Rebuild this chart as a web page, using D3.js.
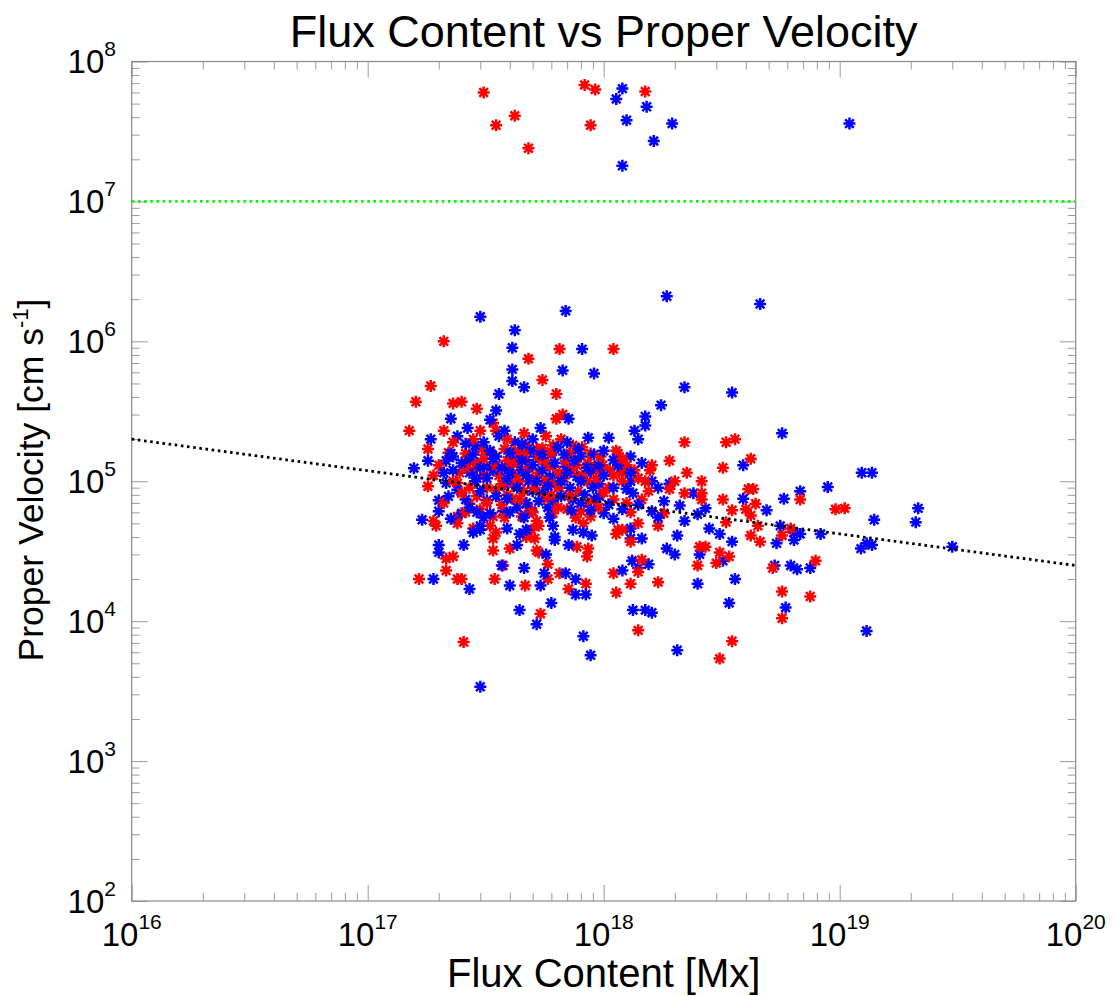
<!DOCTYPE html>
<html><head><meta charset="utf-8">
<script src="https://cdn.jsdelivr.net/npm/d3@7"></script>
<style>
body{margin:0;background:#fff}
svg{display:block}
text{font-family:"Liberation Sans",Arial,Helvetica,sans-serif;fill:#000}
</style>
</head><body>
<svg id="c" width="1116" height="996"></svg>
<script>
// ---------- DATA ----------
const chartTitle = "Flux Content vs Proper Velocity";
const xTitle = "Flux Content [Mx]";
const yTitleMain = "Proper Velocity [cm s";
const yTitleSup = "-1";
const xTickExps = [16, 17, 18, 19, 20];
const yTickExps = [2, 3, 4, 5, 6, 7, 8];
const thresholdVelocity = 1e7;
const fitLine = [[1e16, 2.0e5], [1e20, 2.5e4]];

const redPoints = [
[3.1e17,6.0e7],[3.5e17,3.5e7],[4.2e17,4.1e7],[4.8e17,2.4e7],[8.3e17,6.8e7],[9.2e17,6.3e7],[8.8e17,3.5e7],[1.5e18,6.1e7],
[2.1e17,1.0e6],[6.5e17,8.8e5],[1.1e18,8.8e5],[4.8e17,7.5e5],[5.5e17,5.3e5],[1.85e17,4.8e5],[1.6e17,3.7e5],[2.3e17,3.6e5],[2.5e17,3.7e5],[2.9e17,3.3e5],[6.3e17,4.2e5],[6.3e17,2.8e5],[6.7e17,3.0e5],[1.5e17,2.3e5],[2.1e17,2.3e5],[4.6e17,2.2e5],[6.6e17,2.0e5],[1.8e17,1.7e5],
[1.8e17,9.2e4],[1.9e17,5.2e4],[1.95e17,4.8e4],[2.15e17,2.8e4],[2.3e17,2.9e4],[2.15e17,2.3e4],[1.65e17,2.0e4],[2.4e17,2.0e4],[2.5e17,2.0e4],[2.55e17,7.1e3],[3.45e17,2.0e4],[4.65e17,1.8e4],[5.8e17,2.0e4],[5.4e17,1.13e4],[6.5e17,2.2e4],[7.1e17,1.7e4],[8.4e17,1.85e4],[1.1e18,2.2e4],[1.13e18,1.6e4],[4.0e17,3.3e4],[3.75e17,2.5e4],[5.2e17,3.2e4],[5.8e17,2.55e4],[3.4e17,3.9e4],[3.4e17,3.2e4],[3.5e17,4.3e4],[7.7e17,3.4e4],[8.6e17,3.3e4],[8.5e17,2.9e4],[4.7e17,4.0e4],[5.1e17,3.9e4],[5.3e17,3.1e4],[2.8e17,4.6e4],[3.3e17,4.8e4],[4.95e17,4.5e4],[5.3e17,4.8e4],[8.2e17,5.0e4],[1.15e18,4.5e4],
[2.7e17,6.9e4],[2.4e17,5.0e4],[3.0e17,6.3e4],[3.5e17,8.7e4],[3.4e17,5.6e4],[4.1e17,9.5e4],[4.5e17,5.6e4],[4.8e17,6.5e4],[5.2e17,5.2e4],[5.7e17,9.5e4],[6.1e17,5.9e4],[7.0e17,6.3e4],[8.0e17,6.1e4],[9.1e17,9.5e4],[1.1e18,7.4e4],[2.4e17,5.6e4],[8.8e17,5.6e4],[1.13e18,4.2e4],
[2.2e17,1.6e5],[1.9e17,1.1e5],[2.45e17,1.15e5],[2.6e17,1.58e5],[2.65e17,1.4e5],[3.05e17,1.7e5],[3.4e17,2.6e5],[3.5e17,2.3e5],[3.8e17,1.7e5],[4.7e17,1.8e5],[4.0e17,1.27e5],[5.2e17,1.7e5],[5.5e17,1.72e5],[6.1e17,1.8e5],[7.4e17,1.8e5],[7.2e17,1.58e5],[8.8e17,1.58e5],[1.13e18,1.65e5],[9.6e17,1.2e5],[9.2e17,1.25e5],[1.06e18,1.2e5],[1.1e18,1.1e5],[6.1e17,1.27e5],[5.3e17,1.15e5],[2.4e17,9.7e4],[1.15e18,1.58e5],
[2.2e18,1.9e5],[3.3e18,1.9e5],[3.6e18,2.0e5],[1.9e18,1.4e5],[4.2e18,1.45e5],[3.2e18,1.25e5],[2.25e18,1.15e5],[2.6e18,1.0e5],[6.8e18,7.4e4],[4.1e18,8.8e4],[4.3e18,8.8e4],[3.2e18,7.4e4],[4.4e18,6.9e4],[3.5e18,6.2e4],[4.0e18,6.3e4],[4.2e18,5.7e4],[9.6e18,6.3e4],[1.05e19,6.4e4],[3.3e18,5.1e4],[4.5e18,4.8e4],[6.2e18,4.6e4],[5.7e18,4.1e4],[4.2e18,4.1e4],[4.6e18,3.7e4],[5.2e18,2.4e4],[7.9e18,2.7e4],[5.7e18,1.63e4],[5.7e18,1.05e4],[7.5e18,1.5e4],[3.5e18,7.2e3],[3.1e18,5.4e3],[1.4e18,8.6e3],[1.7e18,1.9e4],[1.3e18,1.85e4],[2.5e18,2.5e4],[3.0e18,2.6e4],[3.1e18,3.1e4],[3.4e18,2.9e4],[2.55e18,3.4e4],[2.7e18,3.4e4],[2.2e18,8.2e4],[2.6e18,8.2e4],[2.6e18,7.4e4],[1.45e18,2.75e4],[1.4e18,2.25e4],[1.3e18,3.7e4],[1.4e18,5.0e4],[1.7e18,4.8e4],[1.2e18,4.5e4],[1.8e18,5.9e4],[1.9e18,8.8e4],[1.57e18,1.2e5],[1.4e18,1.05e5],[1.2e18,1.15e5],[1.45e18,7.4e4],
[2.8e17,1.2e5],[3.2e17,9.0e4],[3.6e17,1.1e5],[4.3e17,1.35e5],[4.6e17,8.5e4],[5.0e17,1.05e5],[3.9e17,8.0e4],[6.5e17,9.0e4],[7.8e17,8.5e4],[2.9e17,7.8e4],[4.2e17,1.1e5],[5.6e17,1.4e5],[6.8e17,1.05e5],[8.5e17,1.0e5],[3.1e17,1.45e5],[2.5e17,8.2e4],[3.7e17,6.8e4],[6.0e17,8.0e4],
[2.0e17,1.3e5],[2.3e17,1.0e5],[2.6e17,1.25e5],[2.7e17,9.0e4],[2.9e17,1.35e5],[3.1e17,1.1e5],[3.3e17,1.6e5],[3.5e17,1.3e5],[3.7e17,9.5e4],[3.9e17,1.4e5],[4.1e17,7.5e4],[4.4e17,1.0e5],[4.6e17,1.55e5],[4.8e17,1.25e5],[5.1e17,9.0e4],[5.3e17,1.45e5],[5.6e17,1.0e5],[5.9e17,1.3e5],[6.2e17,9.5e4],[6.5e17,1.15e5],[6.9e17,1.4e5],[7.3e17,1.2e5],[7.7e17,1.3e5],[8.1e17,1.1e5],[8.6e17,1.35e5],[9.3e17,1.05e5],[9.9e17,1.3e5],[1.05e18,9.0e4],[1.2e18,1.0e5],[1.25e18,1.3e5],[1.35e18,1.2e5],[1.5e18,1.0e5],[1.6e18,1.3e5],[2.1e17,7.0e4],[2.6e17,6.0e4],[3.2e17,7.0e4],[3.8e17,5.5e4],[4.4e17,7.5e4],[5.0e17,6.0e4],[5.6e17,7.5e4],[6.4e17,6.5e4],[7.1e17,7.8e4],[7.6e17,5.5e4],[8.6e17,7.0e4],[9.5e17,6.5e4],[1.0e18,8.3e4],[1.25e18,7.0e4],[1.3e18,6.0e4],[1.55e18,8.5e4],[2.0e18,1.0e5],[2.3e17,1.9e5],[2.8e17,2.0e5],[3.9e17,2.0e5],[5.7e17,2.1e5],[6.0e17,1.6e5],[3.0e17,2.3e5],[4.2e17,1.65e5],[8.1e17,1.75e5],[9.7e17,1.5e5],[1.2e18,1.45e5]
];

const bluePoints = [
[1.2e18,6.4e7],[1.13e18,5.4e7],[1.25e18,3.8e7],[1.52e18,4.75e7],[1.95e18,3.6e7],[1.63e18,2.7e7],[1.2e18,1.8e7],[1.1e19,3.6e7],
[3.0e17,1.5e6],[6.9e17,1.65e6],[4.2e17,1.2e6],[4.1e17,9.0e5],[8.1e17,8.8e5],[4.1e17,6.3e5],[6.7e17,6.2e5],[4.1e17,5.2e5],[4.6e17,4.7e5],[9.1e17,5.9e5],[3.6e17,4.2e5],[3.5e17,3.2e5],[7.1e17,2.8e5],[2.25e17,2.8e5],[2.65e17,2.4e5],[8.6e17,2.05e5],[1.05e18,2.05e5],[1.85e17,2.0e5],[1.57e17,1.24e5],[1.8e17,1.4e5],
[1.85e18,2.1e6],[4.6e18,1.85e6],[2.2e18,4.7e5],[3.5e18,4.3e5],[1.75e18,3.5e5],[1.5e18,2.9e5],[1.5e18,2.5e5],[1.35e18,2.3e5],[1.4e18,2.0e5],[5.7e18,2.2e5],[1.3e18,1.5e5],[3.9e18,1.3e5],[1.24e19,1.15e5],[1.37e19,1.15e5],[8.9e18,9.1e4],[6.8e18,8.5e4],[5.8e18,7.5e4],[3.9e18,7.5e4],[4.9e18,6.2e4],[2.15e19,6.4e4],[1.4e19,5.3e4],[2.1e19,5.1e4],[5.6e18,4.8e4],[6.4e18,4.3e4],[8.3e18,4.2e4],[6.8e18,4.2e4],[5.4e18,3.6e4],[6.4e18,3.8e4],[1.3e19,3.6e4],[1.37e19,3.5e4],[1.23e19,3.3e4],[3.0e19,3.4e4],[5.3e18,2.5e4],[6.2e18,2.5e4],[6.6e18,2.35e4],[7.5e18,2.4e4],[5.9e18,1.25e4],[1.3e19,8.5e3],[3.6e18,2.0e4],[3.4e18,1.35e4],[2.05e18,6.2e3],[2.5e18,1.85e4],[1.33e18,1.2e4],[1.5e18,1.2e4],[1.6e18,1.15e4],[3.2e18,2.7e4],[2.55e18,3.0e4],[2.0e18,3.0e4],[1.85e18,3.3e4],[2.05e18,4.1e4],[2.8e18,4.6e4],[3.1e18,4.2e4],[3.5e18,3.7e4],[2.2e18,5.2e4],[2.7e18,6.4e4],[2.5e18,5.8e4],[2.1e18,6.7e4],[2.4e18,8.2e4],[1.2e18,2.3e4],[1.32e18,2.7e4],[1.4e18,2.4e4],[1.55e18,2.55e4],[1.3e18,3.9e4],[1.45e18,3.9e4],[1.3e18,4.6e4],[1.6e18,6.1e4],[1.8e18,7.2e4],[1.9e18,9.6e4],[1.6e18,1.0e5],[1.3e18,1.0e5],[1.2e18,1.2e5],[1.33e18,8.2e4],
[2.0e17,7.3e4],[2.0e17,6.1e4],[1.7e17,5.3e4],[2.0e17,3.5e4],[2.0e17,3.1e4],[2.55e17,3.5e4],[1.9e17,2.0e4],[2.7e17,1.7e4],[3.0e17,3.4e3],[3.7e17,2.5e4],[4.6e17,2.4e4],[4.0e17,1.8e4],[5.4e17,1.8e4],[5.6e17,2.2e4],[6.0e17,1.35e4],[4.4e17,1.2e4],[5.2e17,9.5e3],[8.2e17,7.8e3],[8.8e17,5.7e3],[6.9e17,2.2e4],[7.6e17,2.0e4],[7.6e17,1.55e4],[8.4e17,1.55e4],[4.3e17,3.5e4],[5.7e17,3.0e4],[3.9e17,4.6e4],[6.2e17,4.0e4],[6.2e17,3.8e4],[7.1e17,3.5e4],[2.8e17,4.3e4],[3.0e17,4.5e4],[4.7e17,4.5e4],[7.4e17,4.5e4],[8.2e17,4.3e4],[8.9e17,4.1e4],
[2.4e17,8.7e4],[2.6e17,7.4e4],[2.5e17,5.9e4],[3.2e17,7.3e4],[3.3e17,5.9e4],[3.75e17,6.1e4],[4.7e17,7.0e4],[5.5e17,8.2e4],[6.1e17,7.2e4],[7.4e17,7.4e4],[9.1e17,7.4e4],[9.6e17,7.8e4],[1.0e18,5.9e4],[1.1e18,5.4e4],[9.6e17,9.5e4],[2.25e17,5.4e4],[3.0e17,4.8e4],[4.4e17,4.2e4],[4.95e17,6.1e4],[6.1e17,4.8e4],
[2.25e17,1.58e5],[2.15e17,1.4e5],[2.4e17,2.1e5],[2.7e17,1.42e5],[2.85e17,1.8e5],[3.2e17,1.27e5],[3.3e17,2.75e5],[3.6e17,2.1e5],[4.2e17,1.9e5],[4.4e17,1.6e5],[4.15e17,1.42e5],[4.7e17,1.42e5],[5.2e17,1.5e5],[7.0e17,1.9e5],[8.0e17,1.5e5],[9.1e17,1.55e5],[1.1e18,1.42e5],[6.9e17,1.27e5],[7.7e17,1.08e5],[5.9e17,1.08e5],[4.8e17,1.0e5],[2.85e17,1.0e5],[2.15e17,9.7e4],
[2.7e17,1.15e5],[3.0e17,8.5e4],[3.4e17,1.2e5],[3.8e17,9.5e4],[4.0e17,1.15e5],[4.5e17,1.2e5],[5.0e17,8.5e4],[5.5e17,1.2e5],[6.4e17,1.1e5],[7.2e17,9.0e4],[8.3e17,8.0e4],[3.5e17,1.5e5],[4.9e17,1.65e5],[6.0e17,1.55e5],[2.3e17,1.2e5],[3.9e17,7.5e4],[5.8e17,6.5e4],[8.8e17,1.15e5],[2.9e17,6.0e4],[4.3e17,6.5e4],
[2.1e17,1.15e5],[2.5e17,1.35e5],[2.8e17,1.55e5],[3.0e17,1.25e5],[3.2e17,1.05e5],[3.4e17,1.45e5],[3.7e17,1.25e5],[3.9e17,1.05e5],[4.3e17,9.0e4],[4.5e17,1.4e5],[4.7e17,1.1e5],[5.0e17,1.3e5],[5.2e17,1.0e5],[5.5e17,1.55e5],[5.8e17,9.2e4],[6.2e17,1.35e5],[6.6e17,1.0e5],[7.0e17,1.15e5],[7.5e17,1.4e5],[8.0e17,1.0e5],[8.5e17,1.25e5],[9.0e17,9.0e4],[9.5e17,1.3e5],[1.0e18,1.1e5],[1.1e18,9.0e4],[1.15e18,1.3e5],[1.3e18,1.15e5],[1.45e18,1.35e5],[1.7e18,9.0e4],[2.2e17,7.8e4],[2.7e17,6.5e4],[3.1e17,5.5e4],[3.5e17,7.8e4],[4.0e17,6.0e4],[4.6e17,5.5e4],[5.3e17,7.2e4],[5.9e17,5.5e4],[6.6e17,7.8e4],[7.3e17,6.2e4],[8.0e17,7.0e4],[8.8e17,6.2e4],[1.05e18,6.8e4],[1.2e18,6.3e4],[1.4e18,6.8e4],[1.7e18,5.5e4],[2.6e17,1.85e5],[3.1e17,1.9e5],[3.3e17,1.65e5],[4.5e17,1.85e5],[5.0e17,2.0e5],[6.4e17,1.75e5],[7.8e17,1.7e5],[3.8e17,2.3e5],[5.4e17,2.4e5],[1.0e18,1.65e5],[2.3e17,1.5e5],[1.25e18,8.8e4],[6.8e17,1.55e5],[4.0e17,1.6e5],[2.9e17,1.05e5]
];

// ---------- LAYOUT ----------
const L = 131.7, R = 1075.7, T = 61.5, B = 901;
const svg = d3.select("#c");
const x = d3.scaleLog().domain([1e16, 1e20]).range([L, R]);
const y = d3.scaleLog().domain([1e2, 1e8]).range([B, T]);

const boxColor = "#8a8a8a", tickColor = "#9a9a9a";

function minorTicks(exps){
  const out=[];
  for(let i=0;i<exps.length-1;i++) for(let m=2;m<=9;m++) out.push(m*Math.pow(10,exps[i]));
  return out;
}
const xMajor = xTickExps.map(e=>Math.pow(10,e));
const yMajor = yTickExps.map(e=>Math.pow(10,e));

function styleAxis(g, color){
  g.select(".domain").remove();
  g.selectAll(".tick line").attr("stroke", color).attr("stroke-width",1);
  g.selectAll(".tick text").remove();
}
[[d3.axisBottom, B],[d3.axisTop, T]].forEach(([fn, pos])=>{
  svg.append("g").attr("transform",`translate(0,${pos})`)
    .call(fn(x).tickValues(xMajor).tickSize(-16).tickFormat(""))
    .call(g=>styleAxis(g,tickColor));
  svg.append("g").attr("transform",`translate(0,${pos})`)
    .call(fn(x).tickValues(minorTicks(xTickExps)).tickSize(-8).tickFormat(""))
    .call(g=>styleAxis(g,tickColor));
});
[[d3.axisLeft, L],[d3.axisRight, R]].forEach(([fn, pos])=>{
  svg.append("g").attr("transform",`translate(${pos},0)`)
    .call(fn(y).tickValues(yMajor).tickSize(-16).tickFormat(""))
    .call(g=>styleAxis(g,tickColor));
  svg.append("g").attr("transform",`translate(${pos},0)`)
    .call(fn(y).tickValues(minorTicks(yTickExps)).tickSize(-8).tickFormat(""))
    .call(g=>styleAxis(g,tickColor));
});
svg.append("rect").attr("x",L).attr("y",T).attr("width",R-L).attr("height",B-T)
  .attr("fill","none").attr("stroke",boxColor).attr("stroke-width",1.2);

// tick labels
const lblSize = 33, supSize = 21;
xTickExps.forEach(e=>{
  const t = svg.append("text").attr("x", x(Math.pow(10,e))).attr("y", 946)
    .attr("text-anchor","middle").attr("font-size",lblSize);
  t.append("tspan").text("10");
  t.append("tspan").attr("font-size",supSize).attr("dy",-17).text(e);
});
yTickExps.forEach(e=>{
  const t = svg.append("text").attr("x", 116).attr("y", y(Math.pow(10,e))+11.5)
    .attr("text-anchor","end").attr("font-size",lblSize);
  t.append("tspan").text("10");
  t.append("tspan").attr("font-size",supSize).attr("dy",-17).text(e);
});

// titles
svg.append("text").attr("x",(L+R)/2).attr("y",47).attr("text-anchor","middle")
  .attr("font-size",45).text(chartTitle);
svg.append("text").attr("x",(L+R)/2).attr("y",987).attr("text-anchor","middle")
  .attr("font-size",40).text(xTitle);
const yt = svg.append("text").attr("transform",`translate(43,480) rotate(-90)`)
  .attr("text-anchor","middle").attr("font-size",35.5);
yt.append("tspan").text(yTitleMain);
yt.append("tspan").attr("font-size",22).attr("dy",-15).text(yTitleSup);
yt.append("tspan").attr("dy",15).text("]");

// threshold line
const line = d3.line().x(d=>x(d[0])).y(d=>y(d[1]));
svg.append("path").datum([[1e16,thresholdVelocity],[1e20,thresholdVelocity]])
  .attr("d",line).attr("fill","none").attr("stroke","#00ff00")
  .attr("stroke-width",2.8).attr("stroke-dasharray","2.6,3.6");

// points (asterisks)
const r = 6, k = r*0.72;
const star = `M${-r},0L${r},0M0,${-r}L0,${r}M${-k},${-k}L${k},${k}M${-k},${k}L${k},${-k}`;
const all = [];
const n = Math.max(redPoints.length, bluePoints.length);
for(let i=0;i<n;i++){
  if(i<redPoints.length) all.push({p:redPoints[i], c:"#ff0000"});
  if(i<bluePoints.length) all.push({p:bluePoints[i], c:"#0000ff"});
}
svg.append("g").selectAll("path").data(all).join("path")
  .attr("transform",d=>`translate(${x(d.p[0])},${y(d.p[1])})`)
  .attr("d",star).attr("fill","none").attr("stroke",d=>d.c).attr("stroke-width",2.5);

svg.append("path").datum(fitLine).attr("d",line).attr("fill","none")
  .attr("stroke","#000").attr("stroke-width",2.8).attr("stroke-dasharray","2.6,3.6");
</script>
</body></html>
